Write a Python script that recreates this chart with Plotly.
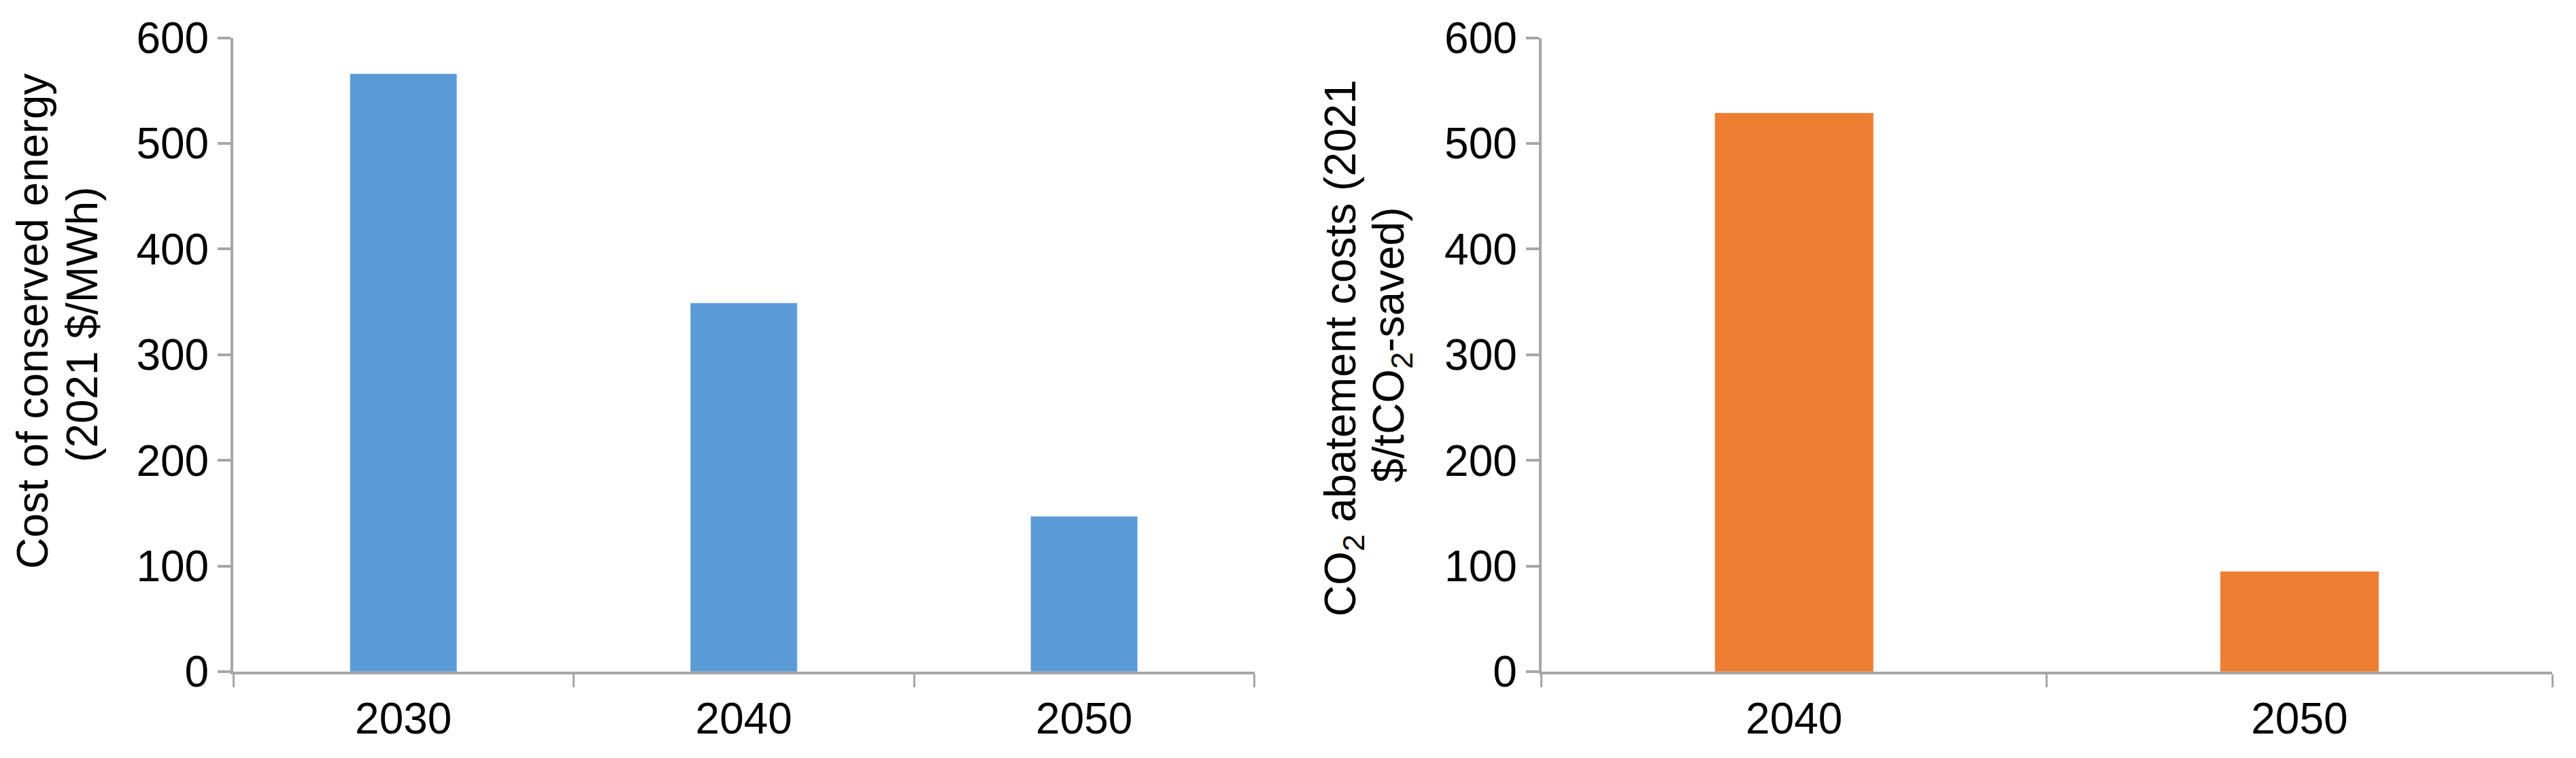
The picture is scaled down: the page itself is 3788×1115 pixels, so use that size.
import plotly.graph_objects as go

# left panel: cost of conserved energy
energy_years = ["2030", "2040", "2050"]
energy_cost = [566, 349, 147]

# right panel: CO2 abatement costs
co2_years = ["2040", "2050"]
co2_cost = [529, 95]

y_ticks = [0, 100, 200, 300, 400, 500, 600]

W, H = 3788, 1115
BLUE = "#5B9BD5"
ORANGE = "#ED7D31"
GREY = "#A6A6A6"
FONT = "Liberation Sans, Arial, Helvetica, sans-serif"


def px_x(v):
    return v / W


def px_y(v):
    return 1 - v / H


fig = go.Figure()
fig.add_trace(go.Bar(x=energy_years, y=energy_cost, marker_color=BLUE,
                     xaxis="x", yaxis="y", showlegend=False))
fig.add_trace(go.Bar(x=co2_years, y=co2_cost, marker_color=ORANGE,
                     xaxis="x2", yaxis="y2", showlegend=False))

xcommon = dict(
    type="category", tickson="boundaries", ticks="outside", ticklen=19,
    tickwidth=3, tickcolor=GREY, showline=True, linecolor=GREY, linewidth=4,
    showgrid=False, zeroline=False, automargin=False, ticklabelstandoff=10,
    tickfont=dict(size=64, color="black", family=FONT),
)
ycommon = dict(
    range=[0, 600], tickvals=y_ticks, ticks="outside", ticklen=19,
    tickwidth=4, tickcolor=GREY, showline=True, linecolor=GREY, linewidth=4,
    showgrid=False, zeroline=False, automargin=False,
    ticksuffix="\u2009",
    tickfont=dict(size=64, color="black", family=FONT),
)
ydom = [px_y(988), px_y(55.7)]

fig.update_layout(
    width=W, height=H,
    margin=dict(l=0, r=0, t=0, b=0),
    paper_bgcolor="white", plot_bgcolor="white",
    bargap=0.686,
    font=dict(family=FONT, size=64, color="black"),
    xaxis=dict(domain=[px_x(343), px_x(1844.5)], anchor="y", **xcommon),
    yaxis=dict(domain=ydom, anchor="x", **ycommon),
    xaxis2=dict(domain=[px_x(2266.7), px_x(3753)], anchor="y2", **xcommon),
    yaxis2=dict(domain=ydom, anchor="x2", **ycommon),
)

# axis titles as rotated two-line annotations (Excel-like tight line spacing)
titles = [
    ("Cost of conserved energy", 48, 473),
    ("(2021 $/MWh)", 121, 478),
    ("CO<sub>2</sub> abatement costs (2021", 1975, 512),
    ("$/tCO<sub>2</sub>-saved)", 2046, 508),
]
for text, cx, cy in titles:
    fig.add_annotation(
        text=text, xref="paper", yref="paper", x=px_x(cx), y=px_y(cy),
        xanchor="center", yanchor="middle", textangle=-90, showarrow=False,
        font=dict(size=64, color="black", family=FONT),
    )

# drop the default 8px body margin so the figure sits at the page origin
fig.write_html("out.html", config={"displayModeBar": False},
               post_script="document.body.style.margin='0px';")
